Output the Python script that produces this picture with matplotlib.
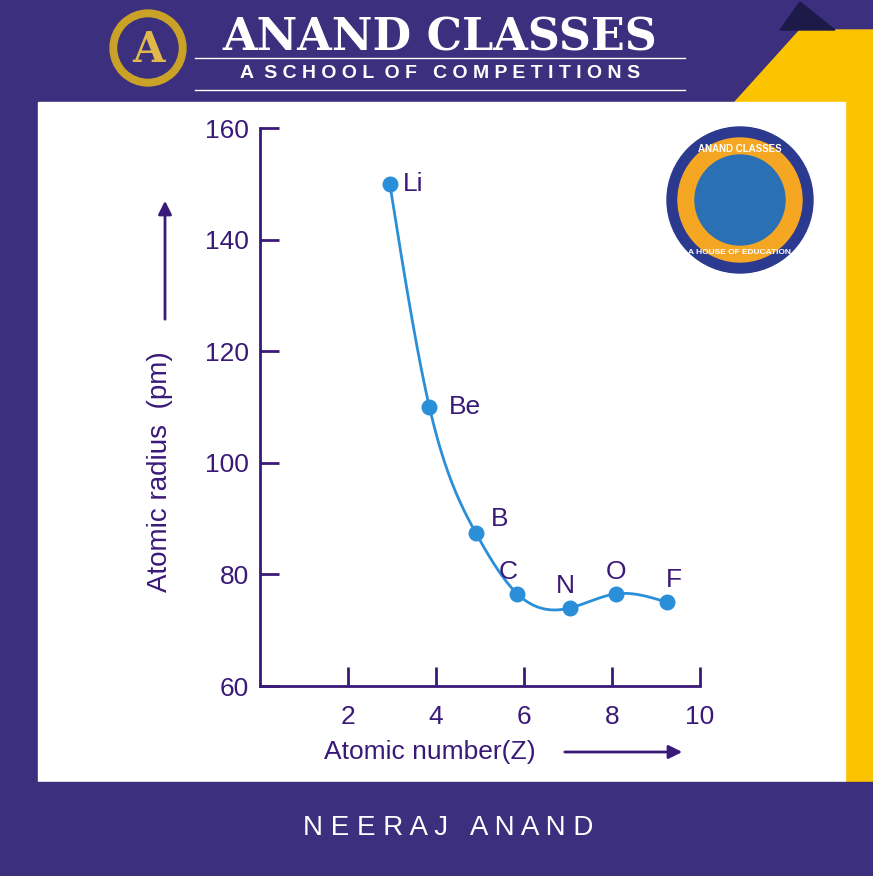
import numpy as np
import matplotlib
matplotlib.use("Agg")
import matplotlib.pyplot as plt
from matplotlib.patches import Rectangle, Polygon, Circle

plt.rcParams['font.family'] = ['Liberation Sans', 'DejaVu Sans']

elements = ["Li", "Be", "B", "C", "N", "O", "F"]
z_pos = [2.95, 3.85, 4.9, 5.85, 7.05, 8.08, 9.25]
radius = [150, 110, 87.5, 76.5, 74, 76.5, 75]
x_ticks = [2, 4, 6, 8, 10]
y_ticks = [60, 80, 100, 120, 140, 160]

W, H = 873, 876
fig = plt.figure(figsize=(W/100, H/100), dpi=100)
bg = fig.add_axes([0, 0, 1, 1])
bg.set_xlim(0, W); bg.set_ylim(H, 0); bg.axis("off")
purple = "#3b2f7e"
bg.add_patch(Rectangle((0, 0), W, H, color=purple))
bg.add_patch(Polygon([(735, 102), (800, 30), (873, 30), (873, 782), (845, 782), (845, 102)], color="#fcc400"))
bg.add_patch(Polygon([(780, 30), (800, 2), (835, 30)], color="#1d1a4a"))
bg.add_patch(Rectangle((38, 102), 807, 680, color="white"))
bg.add_patch(Rectangle((0, 782), W, 94, color=purple))
bg.text(440, 38, "ANAND CLASSES", color="white", fontsize=32, fontweight="bold",
        family="DejaVu Serif", ha="center", va="center")
bg.plot([195, 685], [58, 58], color="white", lw=1)
bg.plot([195, 685], [90, 90], color="white", lw=1)
bg.text(440, 74, "A  S C H O O L  O F   C O M P E T I T I O N S", color="white", fontsize=14,
        fontweight="bold", ha="center", va="center")
bg.text(448, 828, "N E E R A J   A N A N D", color="white", fontsize=20, ha="center", va="center")
bg.add_patch(Circle((148, 48), 38, color="#c9a227"))
bg.add_patch(Circle((148, 48), 30, color=purple))
bg.text(148, 50, "A", color="#e0b94a", fontsize=30, fontweight="bold", ha="center", va="center", family="DejaVu Serif")
bg.add_patch(Circle((740, 200), 73, color="#2b3a8f"))
bg.add_patch(Circle((740, 200), 62, color="#f5a623"))
bg.add_patch(Circle((740, 200), 45, color="#2b6fb5"))
bg.text(740, 152, "ANAND CLASSES", color="white", fontsize=7, fontweight="bold", ha="center")
bg.text(740, 254, "A HOUSE OF EDUCATION", color="white", fontsize=6, fontweight="bold", ha="center")

dark = "#3a1a78"
ax = fig.add_axes([260/W, 190/H, 440/W, 558/H])
ax.patch.set_alpha(0)
ax.set_xlim(0, 10); ax.set_ylim(60, 160)
for s in ["top", "right"]:
    ax.spines[s].set_visible(False)
for s in ["left", "bottom"]:
    ax.spines[s].set_color(dark); ax.spines[s].set_linewidth(2)
ax.set_xticks(x_ticks); ax.set_yticks(y_ticks)
ax.tick_params(direction="in", length=14, width=2, color=dark, labelcolor=dark, labelsize=19, pad=8)
ax.tick_params(axis="x", pad=14)

# natural cubic spline
x = np.array(z_pos); y = np.array(radius); n = len(x)
h = np.diff(x)
A = np.zeros((n, n)); b = np.zeros(n)
A[0, 0] = A[-1, -1] = 1
for i in range(1, n-1):
    A[i, i-1] = h[i-1]; A[i, i] = 2*(h[i-1]+h[i]); A[i, i+1] = h[i]
    b[i] = 6*((y[i+1]-y[i])/h[i] - (y[i]-y[i-1])/h[i-1])
M = np.linalg.solve(A, b)
xs, ys = [], []
for i in range(n-1):
    t = np.linspace(x[i], x[i+1], 50)
    a = x[i+1]-t; c = t-x[i]
    s = (M[i]*a**3 + M[i+1]*c**3)/(6*h[i]) + (y[i]/h[i]-M[i]*h[i]/6)*a + (y[i+1]/h[i]-M[i+1]*h[i]/6)*c
    xs.extend(t); ys.extend(s)
ax.plot(xs, ys, color="#2a8fd8", lw=2, clip_on=False)
ax.scatter(x, y, s=110, color="#2a8fd8", zorder=3, clip_on=False)
offs = {"Li": (0.3, 0), "Be": (0.45, 0), "B": (0.35, 2.5), "C": (-0.2, 4), "N": (-0.1, 4), "O": (0, 4), "F": (0.15, 4)}
for e, xi, yi in zip(elements, x, y):
    dx, dy = offs[e]
    ax.text(xi+dx, yi+dy, e, color=dark, fontsize=19, ha="left" if e in ("Li", "Be", "B") else "center", va="center")

bg.text(160, 472, "Atomic radius  (pm)", rotation=90, color=dark, fontsize=20, ha="center", va="center")
bg.annotate("", xy=(165, 198), xytext=(165, 322), arrowprops=dict(arrowstyle="-|>,head_width=0.4,head_length=0.8", color=dark, lw=2))
bg.text(430, 752, "Atomic number(Z)", color=dark, fontsize=19, ha="center", va="center")
bg.annotate("", xy=(685, 752), xytext=(562, 752), arrowprops=dict(arrowstyle="-|>,head_width=0.4,head_length=0.8", color=dark, lw=2))

fig.savefig("out.png", dpi=100)
